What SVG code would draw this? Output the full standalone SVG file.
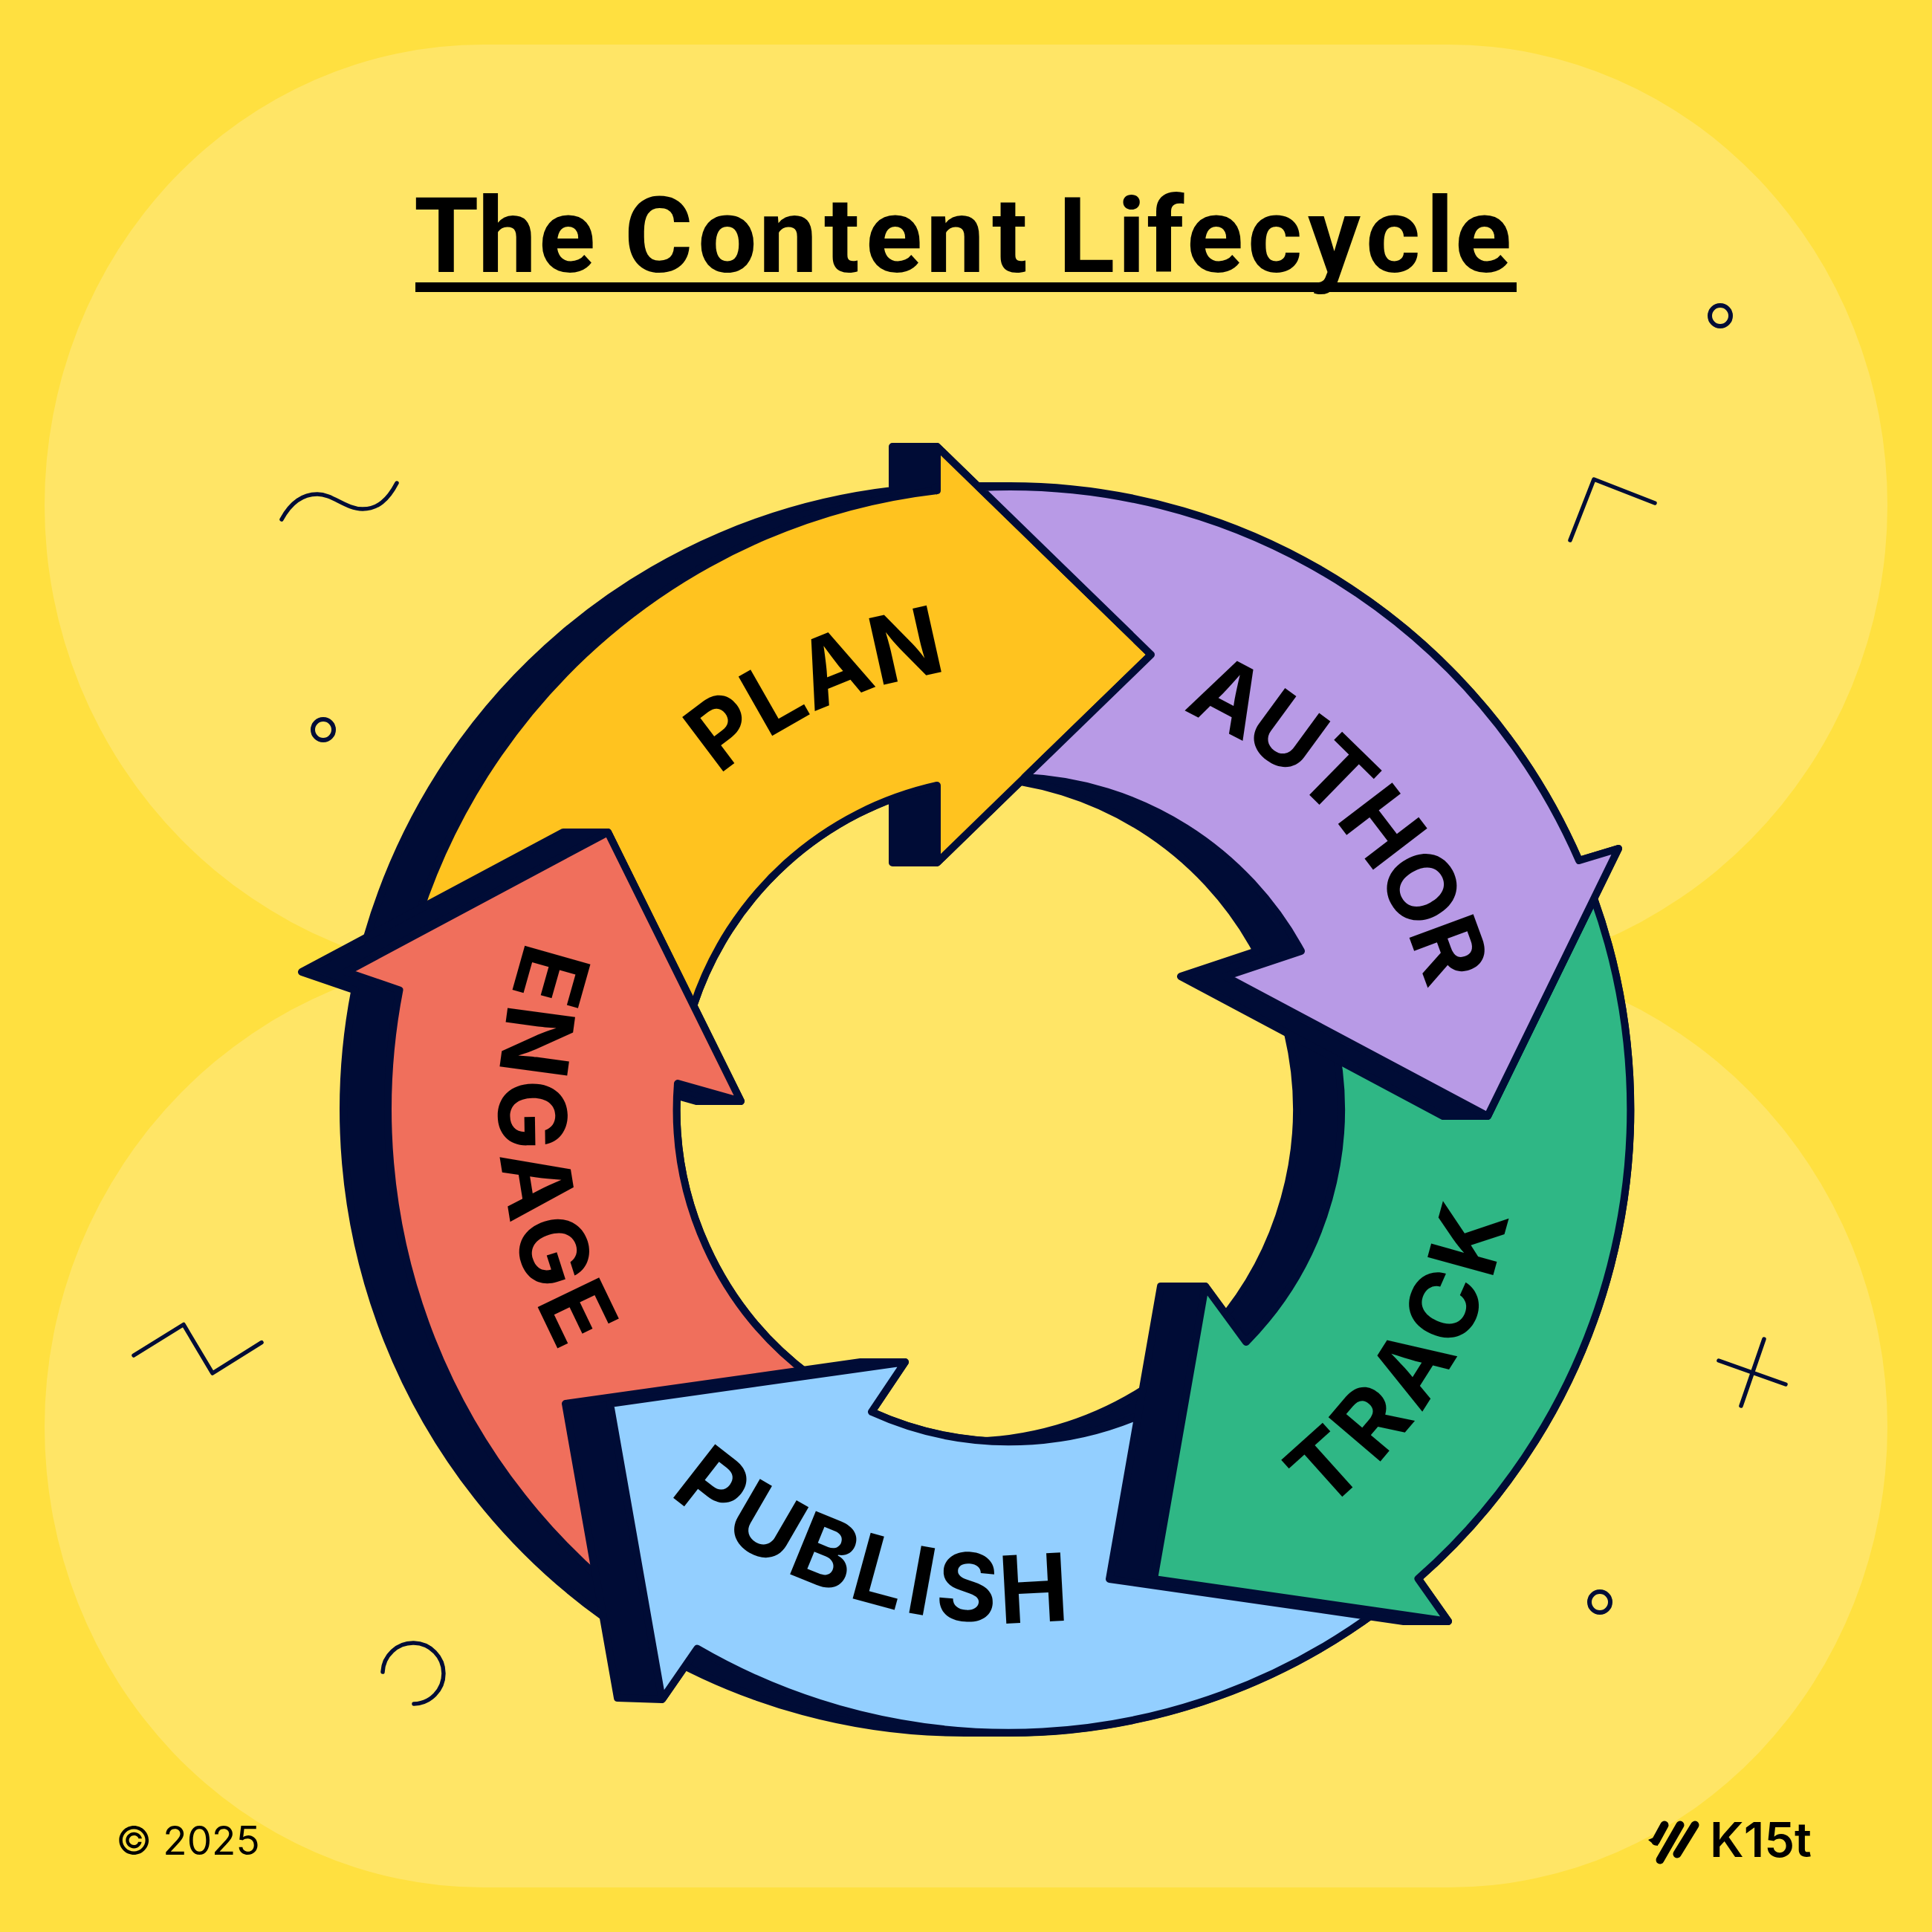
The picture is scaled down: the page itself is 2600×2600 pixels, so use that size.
<svg xmlns="http://www.w3.org/2000/svg" width="2600" height="2600" viewBox="0 0 2600 2600">
<style>
.sh{fill:#000c36;stroke:#000c36;stroke-width:10;stroke-linejoin:round}
.ar{stroke:#000c36;stroke-width:10;stroke-linejoin:round}
.lb{font-family:Inter,"Liberation Sans",Arial,sans-serif;font-weight:700;font-size:126px;fill:#000;text-anchor:middle}
.dc{fill:none;stroke:#000c36;stroke-width:5.500;stroke-linecap:round;stroke-linejoin:round}
.nt{fill:none;stroke:#000c36;stroke-width:6}
</style>
<defs>
<clipPath id="noPlanHead"><path clip-rule="evenodd" d="M0 0H2600V2600H0Z M1261 601L1549 881L1261 1161Z"/></clipPath>
<path id="pPlan" d="M821 1237A595 595 0 0 1 1517 920"/>
<path id="pAuthor" d="M1394 909A585 585 0 0 1 1942 1529"/>
<path id="pTrack" d="M1575 2145A687 687 0 0 0 2038 1393"/>
<path id="pPublish" d="M748 1816A692 692 0 0 0 1682 2104"/>
<path id="pEngage" d="M832 1051A687 687 0 0 0 916 2019"/>
</defs>
<rect width="2600" height="2600" fill="#ffe040"/>
<g id="background" fill="#ffe566">
<path d="M650 60H1950A590 620 0 0 1 2540 680A628 636 0 0 1 1912 1316H688A628 636 0 0 1 60 680A590 620 0 0 1 650 60Z"/>
<path d="M688 1284H1912A628 636 0 0 1 2540 1920A590 620 0 0 1 1950 2540H650A590 620 0 0 1 60 1920A628 636 0 0 1 688 1284Z"/>
</g>
<g id="title">
<text y="366" x="557 643 725 800 840 939 1021 1109 1165 1246 1335 1400 1424 1504 1543 1597 1679 1760 1838 1919 1958" font-family="Roboto,'Liberation Sans',Arial,sans-serif" font-weight="700" font-size="141" fill="#000">The Content Lifecycle</text>
<rect x="559" y="380" width="1482" height="13" fill="#000"/>
</g>
<g id="decorations">
<circle class="nt" cx="435" cy="982" r="14"/>
<circle class="nt" cx="2315" cy="425" r="14"/>
<circle class="nt" cx="2153" cy="2156" r="14"/>
<path class="dc" d="M379 699C392 675 408 665 427 665C448 665 465 685 488 685C508 685 522 673 534 650"/>
<path class="dc" d="M2113 727L2145 645L2227 677"/>
<path class="dc" d="M180 1824L247 1782.500L286 1848L352 1806.600"/>
<path class="dc" d="M515 2250A41 41 0 1 1 557 2293"/>
<path class="dc" d="M2313 1831L2403 1863M2374 1802L2343 1892"/>
</g>
<g id="connectors"></g>
<g id="node-plan">
<path class="sh" d="M494 1261A836 839 0 0 1 1201 660L1201 601H1261L1549 881L1261 1161H1201V1057H1261A447 447 0 0 0 933 1354H873L758 1120H818L554 1261Z"/>
<path class="ar" fill="#ffc31f" d="M554 1261A836 839 0 0 1 1261 660L1261 601L1549 881L1261 1161L1261 1057A447 447 0 0 0 933 1354L818 1120Z"/>
<text class="lb"><textPath href="#pPlan" startOffset="50%">PLAN</textPath></text>
</g>
<g id="node-engage">
<path class="sh" d="M811 2175A836 839 0 0 1 477.500 1332.400L406 1308L758 1120H818L997 1482H937L852 1458H912A447 447 0 0 0 1090 1851L821 1889L871 2175Z"/>
<path class="ar" fill="#f06f5c" d="M871 2175A836 839 0 0 1 537.500 1332.400L466 1308L818 1120L997 1482L912 1458A447 447 0 0 0 1090 1851L821 1889Z"/>
<text class="lb" letter-spacing="10"><textPath href="#pEngage" startOffset="50%">ENGAGE</textPath></text>
</g>
<g id="node-publish">
<path class="sh" d="M1853 2168.500A836 839 0 0 1 1358 2332H1298A836 839 0 0 1 878.300 2218.600H938.300L891 2287L831 2285L761 1889L1158 1833H1218L1173 1900A447 447 0 0 0 1358 1940H1298A447 447 0 0 0 1538 1870.500H1598L1553 2125Z"/>
<path class="ar" fill="#93cfff" d="M1853 2168.500A836 839 0 0 1 938.300 2218.600L891 2287L821 1889L1218 1833L1173 1900A447 447 0 0 0 1598 1870.500L1553 2125Z"/>
<text class="lb" letter-spacing="7"><textPath href="#pPublish" startOffset="50%">PUBLISH</textPath></text>
</g>
<g id="node-track">
<path class="sh" d="M2145 1209A836 839 0 0 1 1908.500 2124.500L1949 2182H1889L1493 2125L1562 1731H1622L1677 1806H1617A447 447 0 0 0 1733 1390.500H1793L2002 1502H1942L2085 1209Z"/>
<path class="ar" fill="#2fb785" d="M2145 1209A836 839 0 0 1 1908.500 2124.500L1949 2182L1553 2125L1622 1731L1677 1806A447 447 0 0 0 1793 1390.500L2002 1502Z"/>
<text class="lb" letter-spacing="10"><textPath href="#pTrack" startOffset="50%">TRACK</textPath></text>
</g>
<g id="node-author">
<path class="sh" clip-path="url(#noPlanHead)" d="M1358 654A836 839 0 0 1 2125 1158L2178 1142L2002 1502H1942L1589 1314L1691 1280A447 447 0 0 0 1319 1046L1489 881L1258 656A836 839 0 0 1 1298 654Z"/>
<path class="ar" fill="#b89ae6" d="M1318 656A836 839 0 0 1 2125 1158L2178 1142L2002 1502L1649 1314L1751 1280A447 447 0 0 0 1379 1046L1549 881Z"/>
<text class="lb" letter-spacing="-5"><textPath href="#pAuthor" startOffset="50%">AUTHOR</textPath></text>
</g>
<g id="footer">
<text x="156" y="2496" font-family="Inter,'Liberation Sans',Arial,sans-serif" font-size="53" fill="#000">© 2025</text>
<g id="logo" fill="none" stroke="#000" stroke-width="11" stroke-linecap="round">
<path d="M2240 2456L2228 2478"/>
<path d="M2261 2456L2234 2503"/>
<path d="M2281 2456L2257 2495"/>
<path d="M2232 2470L2218 2476Q2226 2483 2231 2484Z" fill="#000" stroke="none"/>
</g>
<text x="2301" y="2499" font-family="Inter,'Liberation Sans',sans-serif" font-weight="600" font-size="65" fill="#000">K15t</text>
</g>
</svg>
